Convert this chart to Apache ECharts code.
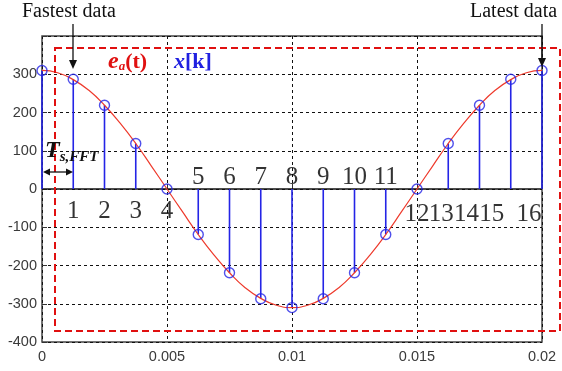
<!DOCTYPE html>
<html><head><meta charset="utf-8">
<script src="https://cdn.jsdelivr.net/npm/echarts@6/dist/echarts.min.js"></script>
<style>html,body{margin:0;padding:0;background:#fff}#c{width:562px;height:371px}</style>
</head><body><div id="c"></div>
<script>
const curveT = [0,0.000625,0.00125,0.001875,0.0025,0.003125,0.00375,0.004375,0.005,0.005625,0.00625,0.006875,0.0075,0.008125,0.00875,0.009375,0.01,0.010625,0.01125,0.011875,0.0125,0.013125,0.01375,0.014375,0.015,0.015625,0.01625,0.016875,0.0175,0.018125,0.01875,0.019375,0.02];
const curveV = [310,304,286,258,219,172,119,60,0,-60,-119,-172,-219,-258,-286,-304,-310,-304,-286,-258,-219,-172,-119,-60,0,60,119,172,219,258,286,304,310];
// Sampled x[k]
const sampleT = [0,0.00125,0.0025,0.00375,0.005,0.00625,0.0075,0.00875,0.01,0.01125,0.0125,0.01375,0.015,0.01625,0.0175,0.01875,0.02];
const sampleV = [310,287,219,119,0,-119,-219,-287,-310,-287,-219,-119,0,119,219,287,310];
const sampleLabels = ['','1','2','3','4','5','6','7','8','9','10','11','12','13','14','15','16'];
const xTicks = [0,0.005,0.01,0.015,0.02];
const yTicks = [-400,-300,-200,-100,0,100,200,300,400];

const chart = echarts.init(document.getElementById('c'));
const blue = '#2424e6';
const red = '#ee3a2c';

// label offsets (styling) per sample index
const labelOffsets = [null,[0,22],[0,22],[0,22],[0,22],[0,-12],[0,-12],[0,-12],[0,-12],[0,-12],[0,-12],[0,-12],[0,25],[-7,25],[-13,25],[-19,25],[-13,25]];

const option = {
  backgroundColor: '#fff',
  animation: false,
  grid: {left: 42, right: 20, top: 36, bottom: 29, show: true, borderColor: '#444', borderWidth: 1.5, backgroundColor: 'transparent'},
  xAxis: {
    type: 'value', min: 0, max: 0.02, interval: 0.005,
    axisLine: {show: false},
    axisTick: {show: true, inside: true, length: 5, lineStyle: {color: '#333'}},
    axisLabel: {color: '#3a3a3a', fontFamily: 'Liberation Sans', fontSize: 14.5, margin: 7,
      formatter: v => xTicks.includes(+v.toFixed(4)) ? String(+v.toFixed(4)) : ''},
    splitLine: {show: true, lineStyle: {color: '#111', type: [3, 3], width: 1}}
  },
  yAxis: {
    type: 'value', min: -400, max: 400, interval: 100,
    axisLine: {show: false},
    axisTick: {show: true, inside: true, length: 5, lineStyle: {color: '#333'}},
    axisLabel: {color: '#3a3a3a', fontFamily: 'Liberation Sans', fontSize: 14.5, margin: 5,
      formatter: v => (v === 400 ? '' : String(v))},
    splitLine: {show: true, lineStyle: {color: '#111', type: [3, 3], width: 1}}
  },
  series: [
    { // zero axis line
      type: 'line', data: [[xTicks[0], 0], [xTicks[xTicks.length - 1], 0]],
      symbol: 'none', lineStyle: {color: '#111', width: 1.5}, z: 3
    },
    { // stems
      type: 'custom',
      data: sampleT.map((t, i) => [t, sampleV[i]]),
      renderItem: (params, api) => {
        const p0 = api.coord([api.value(0), 0]);
        const p1 = api.coord([api.value(0), api.value(1)]);
        return {type: 'line', shape: {x1: p0[0], y1: p0[1], x2: p1[0], y2: p1[1]},
          style: {stroke: blue, lineWidth: 1.6}};
      }, z: 4
    },
    { // analog curve
      type: 'line', data: curveT.map((t, i) => [t, curveV[i]]), smooth: true,
      symbol: 'none', lineStyle: {color: red, width: 1.2}, z: 5
    },
    { // sample circles
      type: 'scatter', data: sampleT.map((t, i) => [t, sampleV[i]]),
      symbol: 'circle', symbolSize: 10,
      itemStyle: {color: 'rgba(0,0,0,0)', borderColor: blue, borderWidth: 1.4}, z: 6
    },
    { // index labels
      type: 'scatter', symbolSize: 0, z: 7,
      data: sampleT.map((t, i) => ({
        value: [t, 0],
        label: {show: i > 0, formatter: sampleLabels[i], position: 'inside', offset: labelOffsets[i] || [0, 0],
          fontFamily: 'Liberation Serif', fontSize: 25, color: '#000'}
      }))
    }
  ],
  graphic: [
    {type: 'rect', shape: {x: 55, y: 48, width: 505, height: 283}, z: 10,
      style: {fill: 'none', stroke: '#e01010', lineWidth: 2, lineDash: [7, 4]}},
    {type: 'text', left: 22, top: 2, z: 10, style: {text: 'Fastest data', font: '20px "Liberation Serif"', fill: '#111'}},
    {type: 'line', z: 10, shape: {x1: 73, y1: 24, x2: 73, y2: 62}, style: {stroke: '#111', lineWidth: 1.3}},
    {type: 'polygon', z: 10, shape: {points: [[69, 60], [77, 60], [73, 69]]}, style: {fill: '#111'}},
    {type: 'text', left: 470, top: 2, z: 10, style: {text: 'Latest data', font: '20px "Liberation Serif"', fill: '#111'}},
    {type: 'line', z: 10, shape: {x1: 542, y1: 24, x2: 542, y2: 60}, style: {stroke: '#111', lineWidth: 1.3}},
    {type: 'polygon', z: 10, shape: {points: [[538, 58], [546, 58], [542, 67]]}, style: {fill: '#111'}},
    {type: 'text', z: 10, left: 108, top: 50, style: {
      text: '{e|e}{s|a}{p|(t)}',
      rich: {e: {font: 'italic bold 24px "Liberation Serif"', fill: '#e01010', verticalAlign: 'bottom'},
             s: {font: 'italic bold 13px "Liberation Serif"', fill: '#e01010', padding: [10, 0, 0, 0]},
             p: {font: 'bold 22px "Liberation Serif"', fill: '#e01010'}}}},
    {type: 'text', z: 10, left: 174, top: 51, style: {
      text: '{x|x}{b|[k]}',
      rich: {x: {font: 'italic bold 22px "Liberation Serif"', fill: '#2020e0'},
             b: {font: 'bold 22px "Liberation Serif"', fill: '#2020e0'}}}},
    {type: 'text', z: 10, left: 45, top: 139, style: {
      text: '{t|T}{s|s,FFT}',
      rich: {t: {font: 'italic bold 24px "Liberation Serif"', fill: '#111'},
             s: {font: 'italic bold 15px "Liberation Serif"', fill: '#111', padding: [12, 0, 0, 0]}}}},
    {type: 'line', z: 10, shape: {x1: 45, y1: 172, x2: 71, y2: 172}, style: {stroke: '#111', lineWidth: 1.3}},
    {type: 'polygon', z: 10, shape: {points: [[43, 172], [50, 168.5], [50, 175.5]]}, style: {fill: '#111'}},
    {type: 'polygon', z: 10, shape: {points: [[73, 172], [66, 168.5], [66, 175.5]]}, style: {fill: '#111'}}
  ]
};
chart.setOption(option);
</script></body></html>
